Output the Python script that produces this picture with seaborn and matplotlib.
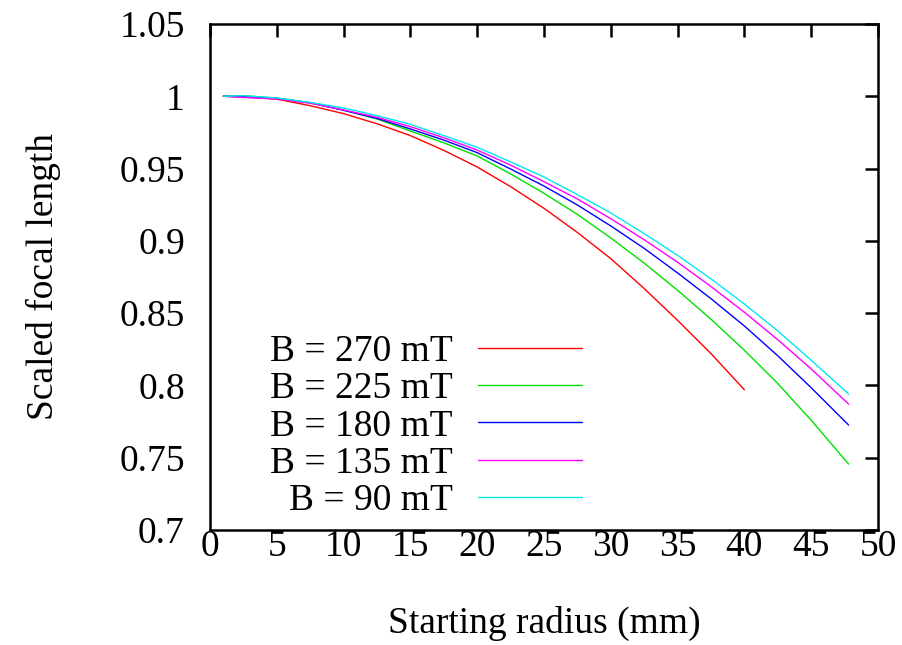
import matplotlib
matplotlib.use("Agg")
import matplotlib.pyplot as plt
import seaborn as sns
import pandas as pd
from matplotlib.ticker import FuncFormatter

# Starting radius samples (mm)
radius_long = [1, 2.5, 5, 7.5, 10, 12.5, 15, 17.5, 20, 22.5, 25, 27.5,
               30, 32.5, 35, 37.5, 40, 42.5, 45, 47.8]
radius_270 = [1, 2.5, 5, 7.5, 10, 12.5, 15, 17.5, 20, 22.5, 25, 27.5,
              30, 32.5, 35, 37.5, 40]

# Scaled focal length per field strength
f_270 = [1.0, 0.9995, 0.998, 0.9935, 0.988, 0.981, 0.9728, 0.9626, 0.9511,
         0.9375, 0.9225, 0.9058, 0.8877, 0.867, 0.845, 0.822, 0.797]
f_225 = [1.0, 1.0004, 0.9988, 0.9955, 0.9905, 0.9843, 0.976, 0.9678, 0.9587,
         0.9463, 0.9329, 0.9183, 0.902, 0.8846, 0.8658, 0.8458, 0.8243,
         0.8013, 0.7759, 0.7456]
f_180 = [1.0, 0.9998, 0.9985, 0.9955, 0.9903, 0.9847, 0.9774, 0.9697, 0.961,
         0.9497, 0.9379, 0.9248, 0.9103, 0.8948, 0.8778, 0.86, 0.8411,
         0.8205, 0.7984, 0.7726]
f_135 = [1.0, 0.9992, 0.9982, 0.9952, 0.9905, 0.9855, 0.979, 0.9713, 0.9628,
         0.9524, 0.9409, 0.929, 0.9153, 0.9008, 0.8852, 0.8684, 0.8506,
         0.8316, 0.8114, 0.7871]
f_90 = [1.0, 1.0004, 0.9988, 0.9958, 0.9919, 0.9866, 0.9806, 0.9728, 0.9647,
        0.9546, 0.9442, 0.932, 0.9193, 0.905, 0.89, 0.8737, 0.8563,
        0.8377, 0.8174, 0.7941]

labels = ["B = 270 mT", "B = 225 mT", "B = 180 mT", "B = 135 mT", "B = 90 mT"]
colors = ["#ff0000", "#00e000", "#0000ff", "#ff00ff", "#00e8f0"]

series = [(radius_270, f_270), (radius_long, f_225), (radius_long, f_180),
          (radius_long, f_135), (radius_long, f_90)]
frames = []
for lab, (r, f) in zip(labels, series):
    frames.append(pd.DataFrame({"radius": r, "focal": f, "field": lab}))
df = pd.concat(frames, ignore_index=True)

sns.set_style("white")
plt.rcParams["font.family"] = ["Liberation Serif", "DejaVu Serif"]
plt.rcParams["text.color"] = "black"
plt.rcParams["axes.labelcolor"] = "black"

FS = 27

fig = plt.figure(figsize=(9.02, 6.45), dpi=100)
ax = fig.add_axes([0.2328, 0.1783, 0.7406, 0.7845])

sns.lineplot(data=df, x="radius", y="focal", hue="field", hue_order=labels,
             palette=dict(zip(labels, colors)), estimator=None, sort=False,
             linewidth=1.0, legend=False, ax=ax)

ax.set_xlim(0, 50)
ax.set_ylim(0.7, 1.05)
ax.set_xticks(range(0, 51, 5))
ax.set_yticks([0.7, 0.75, 0.8, 0.85, 0.9, 0.95, 1.0, 1.05])
ax.yaxis.set_major_formatter(FuncFormatter(lambda v, p: f"{v:g}"))

for s in ax.spines.values():
    s.set_visible(True)
    s.set_color("black")
    s.set_linewidth(1.8)

ax.tick_params(axis="both", which="major", direction="in", length=9.5,
               width=1.8, labelsize=FS, top=True, right=True,
               colors="black", labelcolor="black")
ax.tick_params(axis="x", pad=0)
ax.tick_params(axis="y", pad=18)

ax.set_xlabel("Starting radius (mm)", fontsize=FS, labelpad=30, color="black")
ax.set_ylabel("Scaled focal length", fontsize=FS, labelpad=42, color="black")

handles = ax.get_lines()[:5]
leg = ax.legend(handles, labels, loc="center right",
                bbox_to_anchor=(0.5566, 0.205), frameon=False,
                markerfirst=False, fontsize=FS, handlelength=2.77,
                handletextpad=0.67, labelspacing=0.07, borderpad=0,
                borderaxespad=0)
for t in leg.get_texts():
    t.set_color("black")

fig.savefig("out.png", dpi=100)
